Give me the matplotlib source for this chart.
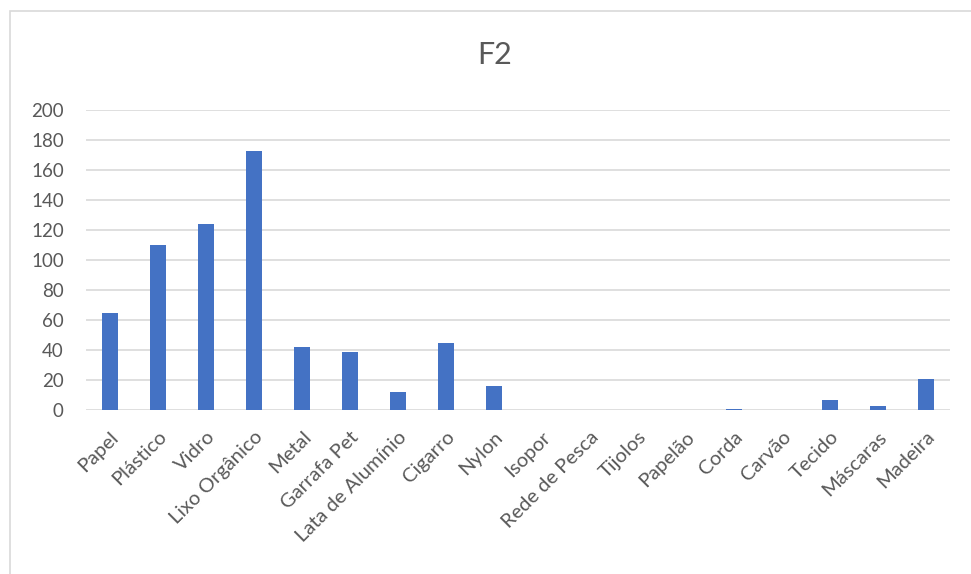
import matplotlib
matplotlib.use("Agg")
import matplotlib.pyplot as plt
from matplotlib.patches import Rectangle

categories = ["Papel", "Plástico", "Vidro", "Lixo Orgânico", "Metal", "Garrafa Pet",
              "Lata de Alumínio", "Cigarro", "Nylon", "Isopor", "Rede de Pesca",
              "Tijolos", "Papelão", "Corda", "Carvão", "Tecido", "Máscaras", "Madeira"]
values = [65, 110, 124, 173, 42, 39, 12, 45, 16, 0, 0, 0, 0, 1, 0, 7, 3, 21]
yticks = [0, 20, 40, 60, 80, 100, 120, 140, 160, 180, 200]
title = "F2"

plt.rcParams['font.family'] = ['Lato', 'DejaVu Sans']
W, H = 971, 574
fig = plt.figure(figsize=(W / 100, H / 100), dpi=100)
fig.patch.set_facecolor("white")

# outer chart border
fig.patches.append(Rectangle((10 / W, -0.1), 1.1, (H - 11) / H + 0.1, transform=fig.transFigure,
                             fill=False, edgecolor="#d9d9d9", linewidth=1.2))

ax = fig.add_axes([86 / W, (H - 410) / H, (950 - 86) / W, 300 / H])
x = range(len(categories))
ax.bar(x, values, width=0.33, color="#4472C4", zorder=3)
ax.set_xlim(-0.5, len(categories) - 0.5)
ax.set_ylim(0, 200)
ax.set_yticks(yticks)
ax.set_yticklabels([str(v) for v in yticks], fontsize=13.5, color="#595959")
ax.set_xticks(list(x))
ax.set_xticklabels(categories, rotation=45, ha="right", rotation_mode="anchor",
                   fontsize=14.5, color="#595959")
ax.tick_params(axis="y", length=0, pad=16)
ax.tick_params(axis="x", length=0, pad=13)
for s in ax.spines.values():
    s.set_visible(False)
ax.grid(axis="y", color="#d9d9d9", linewidth=1.2, zorder=0)
ax.set_axisbelow(True)

fig.text(495 / W, 1 - 55 / H, title, ha="center", va="center",
         fontsize=22, color="#595959")

fig.savefig("out.png", dpi=100)
